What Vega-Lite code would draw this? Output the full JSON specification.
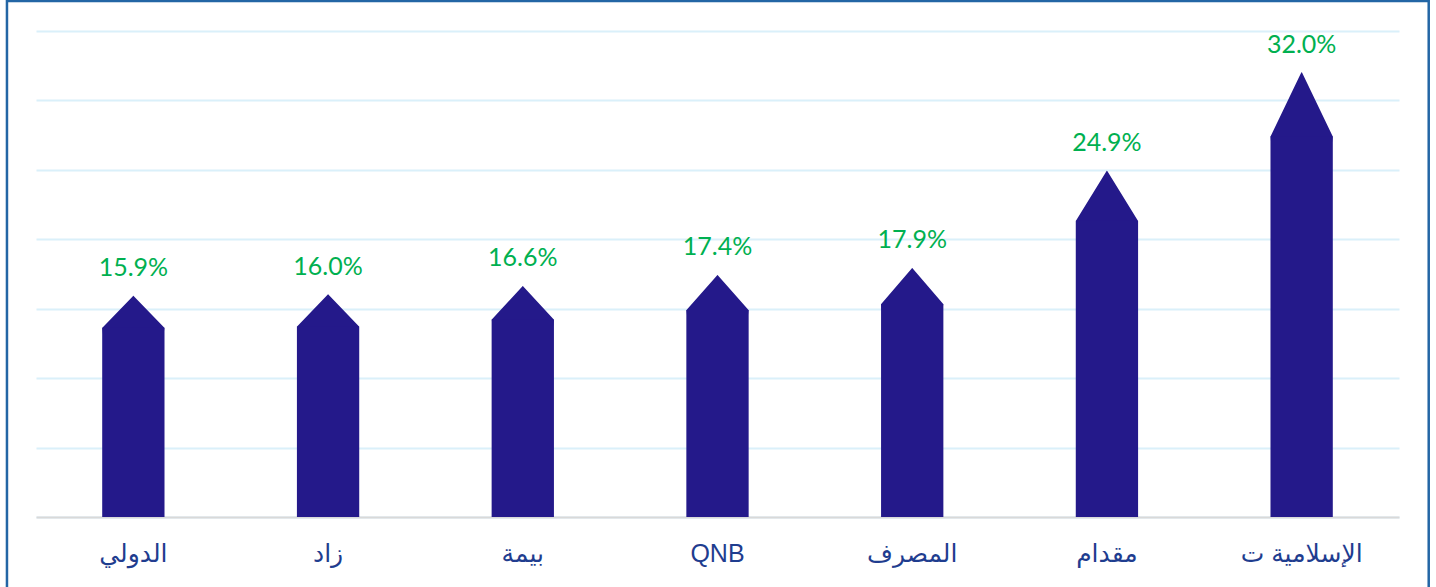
{
  "$schema": "https://vega.github.io/schema/vega-lite/v6.json",
  "width": 1363,
  "height": 486,
  "autosize": "none",
  "padding": {"left": 36, "top": 31, "right": 37, "bottom": 70},
  "background": "white",
  "config": {"view": {"stroke": null}},
  "layer": [
    {
      "data": {"values": [{"frame": "border"}]},
      "mark": {"type": "rect", "fill": "transparent", "stroke": "#2366A5", "strokeWidth": 2.5, "clip": false},
      "encoding": {
        "x": {"datum": -0.0213, "type": "quantitative", "scale": {"domain": [0, 1], "nice": false, "zero": false}, "axis": null},
        "x2": {"datum": 1.0218},
        "y": {"datum": 37.16, "type": "quantitative"},
        "y2": {"datum": -10}
      }
    },
    {
      "data": {
        "values": [
          {"bank": "الدولي", "value": 15.9},
          {"bank": "زاد", "value": 16.0},
          {"bank": "بيمة", "value": 16.6},
          {"bank": "QNB", "value": 17.4},
          {"bank": "المصرف", "value": 17.9},
          {"bank": "مقدام", "value": 24.9},
          {"bank": "الإسلامية ت", "value": 32.0}
        ]
      },
      "transform": [
        {"calculate": "datum.value * 0.857", "as": "shoulder"},
        {"calculate": "format(datum.value, '.1f') + '%'", "as": "label"}
      ],
      "layer": [
        {
          "transform": [{"fold": ["shoulder", "value"], "as": ["key", "level"]}],
          "mark": {"type": "trail", "color": "#24198A"},
          "encoding": {
            "x": {"field": "bank", "type": "nominal", "sort": null},
            "y": {"field": "level", "type": "quantitative"},
            "size": {"field": "key", "type": "nominal", "scale": {"type": "ordinal", "domain": ["shoulder", "value"], "range": [62, 0]}, "legend": null},
            "detail": {"field": "bank"},
            "order": {"field": "level", "type": "quantitative"}
          }
        },
        {
          "mark": {"type": "bar", "color": "#24198A"},
          "encoding": {
            "x": {
              "field": "bank", "type": "nominal", "sort": null,
              "scale": {"paddingInner": 0.68, "paddingOuter": 0.34},
              "axis": {
                "title": null, "labelAngle": 0, "labelAlign": "center", "ticks": false, "grid": false,
                "domainColor": "#D9D9D9", "domainWidth": 2,
                "labelFont": "Liberation Sans, DejaVu Sans", "labelFontSize": 25,
                "labelColor": "#1F3D8F", "labelPadding": 36
              }
            },
            "y": {
              "field": "shoulder", "type": "quantitative",
              "scale": {"domain": [0, 35], "nice": false},
              "axis": {
                "title": null, "labels": false, "ticks": false, "domain": false,
                "grid": true, "gridColor": "#DAF0FA", "gridWidth": 2,
                "values": [0, 5, 10, 15, 20, 25, 30, 35]
              }
            }
          }
        },
        {
          "mark": {"type": "text", "font": "Lato", "fontSize": 25, "color": "#00B050", "baseline": "alphabetic", "dy": -20},
          "encoding": {
            "x": {"field": "bank", "type": "nominal", "sort": null},
            "y": {"field": "value", "type": "quantitative"},
            "text": {"field": "label"}
          }
        }
      ]
    }
  ],
  "resolve": {"scale": {"x": "independent"}}
}
